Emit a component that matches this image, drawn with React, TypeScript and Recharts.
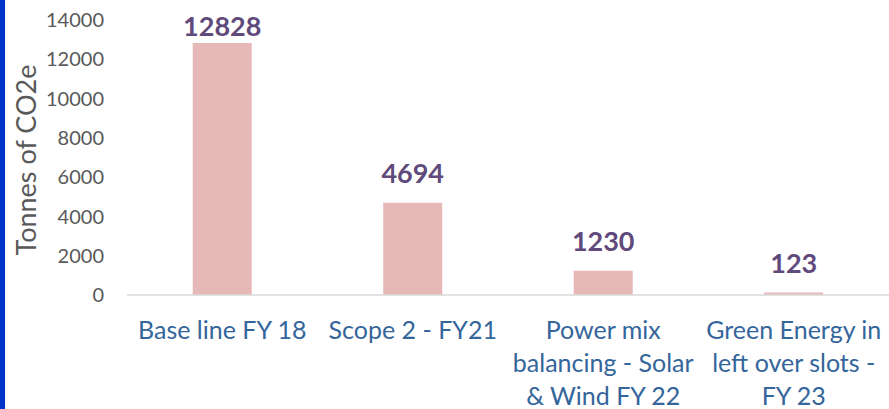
import React from "react";
import { BarChart, Bar, XAxis, YAxis, LabelList } from "recharts";

const categories = [
  "Base line FY 18",
  "Scope 2 - FY21",
  "Power mix balancing - Solar & Wind FY 22",
  "Green Energy in left over slots - FY 23",
];
const categoryLines: string[][] = [
  ["Base line FY 18"],
  ["Scope 2 - FY21"],
  ["Power mix", "balancing - Solar", "& Wind FY 22"],
  ["Green Energy in", "left over slots -", "FY 23"],
];
const emissions = [12828, 4694, 1230, 123];
const yTicks = [0, 2000, 4000, 6000, 8000, 10000, 12000, 14000];

const data = categories.map((c, i) => ({ name: c, value: emissions[i] }));

const FONT = "Lato, 'Open Sans', sans-serif";

const XTick = (props: any) => {
  const { x, y, index } = props;
  const lines = categoryLines[index] || [];
  return (
    <text x={x} y={y} textAnchor="middle" fill="#34659B" fontSize={25} fontFamily={FONT}>
      {lines.map((l, i) => (
        <tspan key={i} x={x} dy={i === 0 ? 44 : 33}>
          {l}
        </tspan>
      ))}
    </text>
  );
};

const YLabel = () => (
  <text
    x={0}
    y={0}
    transform="translate(36,160) rotate(-90)"
    textAnchor="middle"
    fill="#595959"
    fontSize={27}
    fontFamily={FONT}
  >
    Tonnes of CO2e
  </text>
);

const ValueLabel = (props: any) => {
  const { x, y, width, value } = props;
  const baseline = Math.max(y - 20, 36);
  return (
    <text
      x={x + width / 2}
      y={baseline}
      textAnchor="middle"
      fill="#604A7B"
      fontSize={27}
      fontWeight="bold"
      fontFamily={FONT}
    >
      {value}
    </text>
  );
};

export default function App() {
  return (
    <div style={{ position: "absolute", left: 0, top: 0, width: 889, height: 409, background: "#fff" }}>
      <div style={{ position: "absolute", left: 0, top: 0, width: 5, height: 409, background: "#0033CC" }} />
      <BarChart
        width={889}
        height={409}
        data={data}
        margin={{ top: 20, right: 0, bottom: 0, left: 0 }}
        barCategoryGap="34.5%"
      >
        <YAxis
          width={127}
          domain={[0, 14000]}
          ticks={yTicks}
          interval={0}
          axisLine={false}
          tickLine={false}
          tickSize={0}
          tickMargin={23}
          tick={{ fill: "#595959", fontSize: 20, fontFamily: FONT }}
          label={<YLabel />}
        />
        <XAxis
          dataKey="name"
          height={114}
          interval={0}
          axisLine={{ stroke: "#D9D9D9", strokeWidth: 1.5 }}
          tickLine={false}
          tickSize={0}
          tickMargin={0}
          tick={<XTick />}
        />
        <Bar dataKey="value" fill="#E6B8B7" isAnimationActive={false}>
          <LabelList dataKey="value" content={<ValueLabel />} />
        </Bar>
      </BarChart>
    </div>
  );
}
